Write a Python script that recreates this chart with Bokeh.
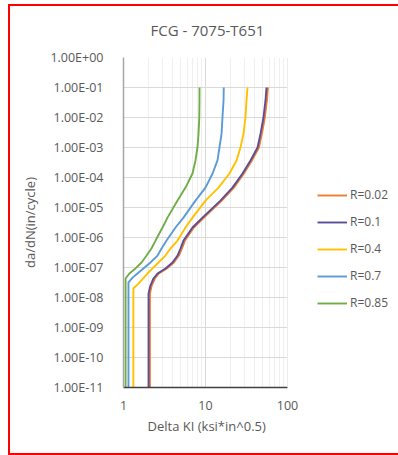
from bokeh.plotting import figure
from bokeh.models import (Legend, LegendItem, FixedTicker, CustomJSTickFormatter, Range1d,
                          BoxAnnotation, Title)
from bokeh.embed import file_html
from bokeh.resources import INLINE

title_text = "FCG - 7075-T651"
x_title = "Delta KI (ksi*in^0.5)"
y_title = "da/dN(in/cycle)"

series_names = ["R=0.02", "R=0.1", "R=0.4", "R=0.7", "R=0.85"]
series_colors = ["#ED7D31", "#5A4E9A", "#FFC000", "#5B9BD5", "#70AD47"]

# R=0.02
k_r002 = [2.10, 2.10, 2.21, 2.41, 2.70, 3.38, 4.12, 4.74, 5.16, 5.61, 7.22, 9.56, 15.8, 22.2, 29.4, 36.8, 44.8, 48.8, 52.9, 56.1, 57.7]
dadn_r002 = [1e-11, 1.35e-8, 2.5e-8, 4.3e-8, 6.3e-8, 9.3e-8, 1.47e-7, 2.5e-7, 4.3e-7, 7.9e-7, 2.15e-6, 4.6e-6,
             1.7e-5, 4.6e-5, 1.36e-4, 3.7e-4, 1e-3, 2.9e-3, 1e-2, 3.7e-2, 1e-1]
# R=0.1
k_r01 = [2.02, 2.02, 2.13, 2.32, 2.60, 3.25, 3.96, 4.56, 4.96, 5.39, 6.94, 9.19, 15.2, 21.3, 28.3, 35.4, 43.1, 46.9, 50.9, 53.9, 55.5]
dadn_r01 = [1e-11, 1.35e-8, 2.5e-8, 4.3e-8, 6.3e-8, 9.3e-8, 1.47e-7, 2.5e-7, 4.3e-7, 7.9e-7, 2.15e-6, 4.6e-6,
            1.7e-5, 4.6e-5, 1.36e-4, 3.7e-4, 1e-3, 2.9e-3, 1e-2, 3.7e-2, 1e-1]
# R=0.4
k_r04 = [1.32, 1.32, 1.52, 1.96, 2.26, 2.67, 3.25, 3.74, 4.56, 5.70, 6.94, 10.0, 14.4, 19.6, 23.9, 26.7, 29.1, 30.7, 31.6, 32.5]
dadn_r04 = [1e-11, 2e-8, 2.9e-8, 6.3e-8, 9.3e-8, 1.47e-7, 2.5e-7, 4.3e-7, 7.9e-7, 2.15e-6, 4.6e-6,
            1.7e-5, 4.6e-5, 1.36e-4, 3.7e-4, 1e-3, 2.9e-3, 1e-2, 3.7e-2, 1e-1]
# R=0.7
k_r07 = [1.15, 1.15, 1.29, 1.48, 1.75, 2.13, 2.60, 2.91, 3.35, 4.31, 5.39, 7.55, 10.0, 12.2, 14.0, 14.8, 15.7, 16.1, 16.6, 16.7]
dadn_r07 = [1e-11, 3.2e-8, 4.6e-8, 6.3e-8, 9.3e-8, 1.47e-7, 2.5e-7, 4.3e-7, 7.9e-7, 2.15e-6, 4.6e-6,
            1.7e-5, 4.6e-5, 1.36e-4, 3.7e-4, 1e-3, 2.9e-3, 1e-2, 3.7e-2, 1e-1]
# R=0.85
k_r085 = [1.06, 1.06, 1.18, 1.40, 1.66, 1.91, 2.19, 2.46, 2.99, 3.44, 4.56, 5.70, 6.94, 7.55, 7.98, 8.22, 8.40, 8.45, 8.45]
dadn_r085 = [1e-11, 4.3e-8, 6.3e-8, 9.3e-8, 1.47e-7, 2.5e-7, 4.3e-7, 7.9e-7, 2.15e-6, 4.6e-6,
             1.7e-5, 4.6e-5, 1.36e-4, 3.7e-4, 1e-3, 2.9e-3, 1e-2, 3.7e-2, 1e-1]

x_ticks = [1, 10, 100]
x_minor_ticks = [2, 3, 4, 5, 6, 7, 8, 9, 20, 30, 40, 50, 60, 70, 80, 90]
x_tick_labels = ["1", "10", "100"]
y_ticks = [1e-11, 1e-10, 1e-9, 1e-8, 1e-7, 1e-6, 1e-5, 1e-4, 1e-3, 1e-2, 1e-1, 1e0]
y_tick_labels = ["1.00E-11", "1.00E-10", "1.00E-09", "1.00E-08", "1.00E-07", "1.00E-06",
                 "1.00E-05", "1.00E-04", "1.00E-03", "1.00E-02", "1.00E-01", "1.00E+00"]

FONT = "Open Sans"
TXT = "#595959"

# frame: 82 px per decade on x, the part right of 100 holds the legend
FRAME_W = 270
x_end = 10 ** (FRAME_W / 82)

p = figure(width=390, height=451, x_axis_type="log", y_axis_type="log",
           x_range=Range1d(1, x_end), y_range=Range1d(1e-11, 1),
           output_backend="svg", toolbar_location=None,
           min_border_left=115, min_border_right=390 - 115 - FRAME_W,
           min_border_top=53, min_border_bottom=68)
p.margin = (4, 0, 0, 8)
p.styles = {"box-shadow": "inset 2px 2px 0 0 #FF0000, inset 0 -2px 0 0 #FF0000"}

p.title.text = title_text
p.title.align = "left"
p.title.offset = 27
p.title.vertical_align = "top"
p.title.text_font = FONT
p.title.text_font_size = "15px"
p.title.text_font_style = "normal"
p.title.text_color = TXT
p.title.standoff = 31

p.outline_line_color = None
p.background_fill_color = "white"
p.border_fill_alpha = 0

# axes
xa = p.xaxis[0]
xa.ticker = FixedTicker(ticks=x_ticks, minor_ticks=x_minor_ticks)
xa.formatter = CustomJSTickFormatter(args=dict(labels=x_tick_labels),
                                     code="return labels[Math.round(Math.log10(tick))];")
xa.bounds = (1, 100)
xa.major_label_text_font = FONT
xa.major_label_text_font_size = "12.5px"
xa.major_label_text_color = TXT
xa.major_label_standoff = 7
xa.axis_line_color = "#404040"
xa.axis_line_width = 1.5
xa.major_tick_line_color = None
xa.minor_tick_line_color = None

xt = Title(text=x_title, align="left", offset=24, standoff=5,
           text_font=FONT, text_font_size="13px", text_font_style="normal", text_color=TXT)
p.add_layout(xt, "below")

ya = p.yaxis[0]
ya.ticker = FixedTicker(ticks=y_ticks, minor_ticks=[])
ya.formatter = CustomJSTickFormatter(args=dict(labels=y_tick_labels),
                                     code="return labels[Math.round(Math.log10(tick)) + 11];")
ya.axis_label = y_title
ya.axis_label_text_font = FONT
ya.axis_label_text_font_size = "13px"
ya.axis_label_text_font_style = "normal"
ya.axis_label_text_color = TXT
ya.axis_label_standoff = 8
ya.major_label_text_font = FONT
ya.major_label_text_font_size = "12.5px"
ya.major_label_text_color = TXT
ya.major_label_standoff = 14
ya.axis_line_color = "#A6A6A6"
ya.axis_line_width = 1.5
ya.major_tick_line_color = None
ya.minor_tick_line_color = None

p.xgrid.grid_line_color = "#D9D9D9"
p.xgrid.minor_grid_line_color = "#EFEFEF"
p.xgrid.bounds = (1, 100)
p.ygrid.grid_line_color = "#D9D9D9"

# blank out the legend zone right of the plot area
p.add_layout(BoxAnnotation(left=100, fill_color="white", fill_alpha=1, line_color=None))

all_k = [k_r002, k_r01, k_r04, k_r07, k_r085]
all_d = [dadn_r002, dadn_r01, dadn_r04, dadn_r07, dadn_r085]
renderers = []
for ks, ds, c in zip(all_k, all_d, series_colors):
    r = p.line(ks, ds, line_color=c, line_width=1.9)
    renderers.append(r)

legend = Legend(items=[LegendItem(label=n, renderers=[r]) for n, r in zip(series_names, renderers)],
                location=(194, 76))
legend.border_line_color = None
legend.background_fill_alpha = 0
legend.padding = 0
legend.margin = 0
legend.spacing = 10
legend.glyph_width = 30
legend.glyph_height = 16
legend.label_height = 16
legend.label_standoff = 3
legend.label_text_font = FONT
legend.label_text_font_size = "12px"
legend.label_text_color = TXT
p.add_layout(legend)

open("out.html", "w").write(file_html(p, INLINE))
